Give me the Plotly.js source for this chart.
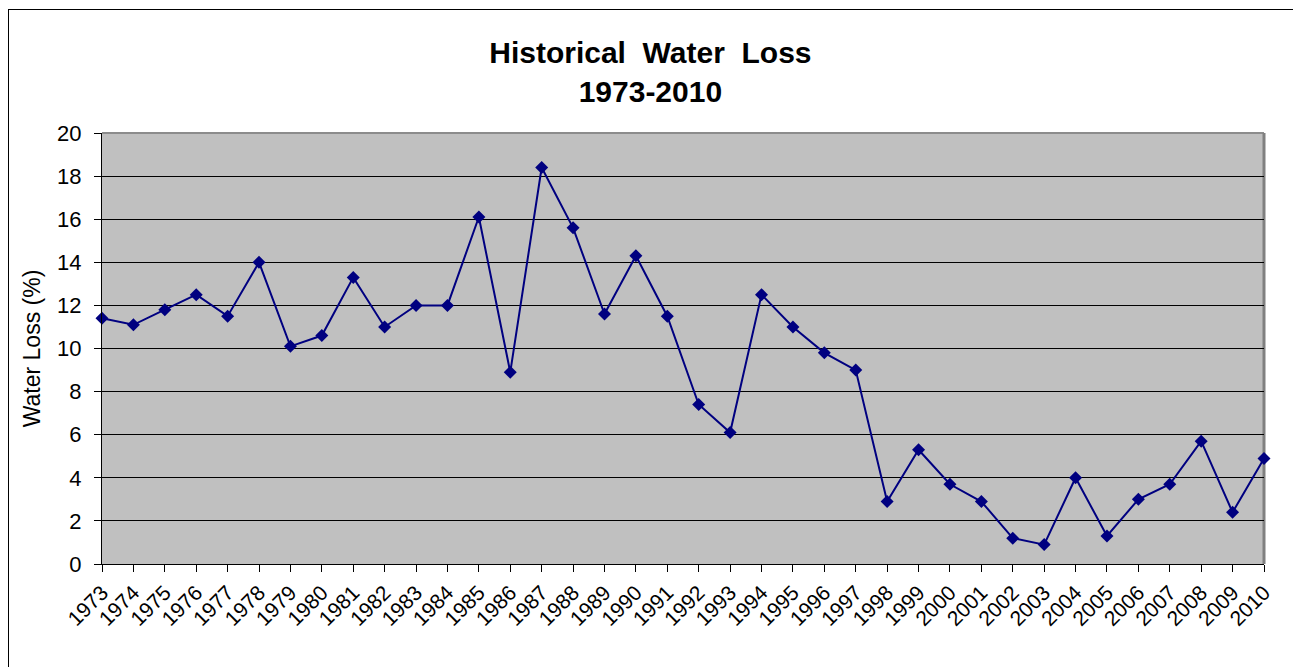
<!DOCTYPE html>
<html>
<head>
<meta charset="utf-8">
<script src="https://cdn.plot.ly/plotly-3.0.1.min.js"></script>
<style>
  html, body { margin: 0; padding: 0; background: #fff; overflow: hidden; }
  #chart { width: 1293px; height: 667px; position: absolute; left: 0; top: 0; }
  #frame { position: absolute; left: 8px; top: 9px; width: 1400px; height: 800px;
           border: 1px solid #000; pointer-events: none; }
</style>
</head>
<body>
<div id="chart"></div>
<div id="frame"></div>
<script>
const years = ['1973','1974','1975','1976','1977','1978','1979','1980','1981','1982',
  '1983','1984','1985','1986','1987','1988','1989','1990','1991','1992',
  '1993','1994','1995','1996','1997','1998','1999','2000','2001','2002',
  '2003','2004','2005','2006','2007','2008','2009','2010'];
const waterLoss = [11.4, 11.1, 11.8, 12.5, 11.5, 14.0, 10.1, 10.6, 13.3, 11.0,
  12.0, 12.0, 16.1, 8.9, 18.4, 15.6, 11.6, 14.3, 11.5, 7.4,
  6.1, 12.5, 11.0, 9.8, 9.0, 2.9, 5.3, 3.7, 2.9, 1.2,
  0.9, 4.0, 1.3, 3.0, 3.7, 5.7, 2.4, 4.9];
const yTicks = [0, 2, 4, 6, 8, 10, 12, 14, 16, 18, 20];

const font = 'Liberation Sans, Arial, sans-serif';

const trace = {
  x: years, y: waterLoss, type: 'scatter', mode: 'lines+markers',
  line: { color: '#000080', width: 2 },
  marker: { symbol: 'diamond', size: 10, color: '#000080' },
  cliponaxis: false, hoverinfo: 'x+y'
};

const layout = {
  width: 1293, height: 667,
  margin: { l: 102, r: 29, t: 133, b: 103, pad: 0 },
  paper_bgcolor: '#ffffff', plot_bgcolor: '#C0C0C0',
  showlegend: false,
  font: { family: font, color: '#000' },
  title: {
    text: '<b>Historical  Water  Loss</b><br><b>1973-2010</b>',
    font: { family: font, size: 30, color: '#000' },
    xref: 'container', x: 0.503, xanchor: 'center',
    yref: 'container', y: 0.905, yanchor: 'middle'
  },
  xaxis: {
    type: 'category', range: [0, 37], autorange: false,
    tickangle: -45, tickfont: { family: font, size: 21, color: '#000' },
    ticks: 'outside', ticklen: 7, tickcolor: '#000', tickwidth: 1,
    showline: true, linecolor: '#000', linewidth: 1,
    showgrid: false, zeroline: false, fixedrange: true
  },
  yaxis: {
    range: [0, 20], autorange: false, tickvals: yTicks,
    tickfont: { family: font, size: 22, color: '#000' },
    ticks: 'outside', ticklen: 7, tickcolor: '#000', tickwidth: 1,
    ticklabelstandoff: 8,
    showline: true, linecolor: '#000', linewidth: 1,
    showgrid: true, gridcolor: '#000', gridwidth: 1, zeroline: false,
    title: { text: 'Water Loss (%)', font: { family: font, size: 23, color: '#000' }, standoff: 10 },
    fixedrange: true
  },
  shapes: [
    { type: 'line', xref: 'paper', yref: 'paper', x0: 0, x1: 1, y0: 1, y1: 1,
      line: { color: '#8c8c8c', width: 2 }, layer: 'below' },
    { type: 'line', xref: 'paper', yref: 'paper', x0: 1, x1: 1, y0: 0, y1: 1,
      line: { color: '#808080', width: 3 }, layer: 'below' }
  ]
};

Plotly.newPlot('chart', [trace], layout, { displayModeBar: false, staticPlot: true });
</script>
</body>
</html>
